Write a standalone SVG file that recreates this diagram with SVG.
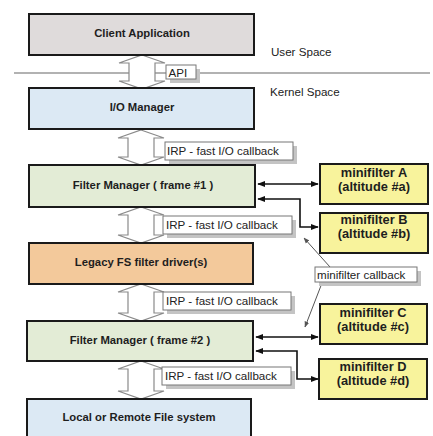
<svg xmlns="http://www.w3.org/2000/svg" width="433" height="436" viewBox="0 0 433 436">
<defs>
<style>
.box{stroke:#1a1a1a;stroke-width:2}
.bt{font-family:"Liberation Sans",Arial,sans-serif;font-weight:bold;font-size:11.3px;fill:#1e1e1e;text-anchor:middle}
.mt{font-family:"Liberation Sans",Arial,sans-serif;font-weight:bold;font-size:12.8px;fill:#1e1e1e;text-anchor:middle}
.lt{font-family:"Liberation Sans",Arial,sans-serif;font-size:11.6px;fill:#222}
.blk{fill:#fff;stroke:#8a8a8a;stroke-width:1.2}
.lab{fill:#fff;stroke:#777;stroke-width:1}
.sh{fill:#c4c4c4}
.con{fill:none;stroke:#111;stroke-width:1.6}
.ptr{fill:none;stroke:#555;stroke-width:1}
</style>
<marker id="ah" viewBox="0 0 10 10" refX="9" refY="5" markerWidth="5" markerHeight="5" orient="auto-start-reverse" markerUnits="strokeWidth">
<path d="M0,1 L10,5 L0,9 Z" fill="#111"/>
</marker>
<marker id="ph" viewBox="0 0 10 10" refX="9" refY="5" markerWidth="6" markerHeight="6" orient="auto" markerUnits="strokeWidth">
<path d="M0,1 L10,5 L0,9 Z" fill="#555"/>
</marker>
</defs>
<rect width="433" height="436" fill="#fff"/>

<line x1="14" y1="73" x2="430" y2="73" stroke="#999" stroke-width="1.5"/>
<text class="lt" x="271" y="56">User Space</text>
<text class="lt" x="270" y="96">Kernel Space</text>

<g id="connectors">
<path class="blk" d="M142,55 L165,63 L155,63 L155,81 L165,81 L142,89 L119,81 L129,81 L129,63 L119,63 Z"/>
<path class="blk" d="M141,130 L164,138 L154,138 L154,157 L164,157 L141,165 L118,157 L128,157 L128,138 L118,138 Z"/>
<path class="blk" d="M141,207 L164,215 L154,215 L154,235 L164,235 L141,243 L118,235 L128,235 L128,215 L118,215 Z"/>
<path class="blk" d="M141,284 L164,292 L154,292 L154,313 L164,313 L141,321 L118,313 L128,313 L128,292 L118,292 Z"/>
<path class="blk" d="M141,361 L164,369 L154,369 L154,391 L164,391 L141,399 L118,391 L128,391 L128,369 L118,369 Z"/>

<g id="label-api">
<rect class="sh" x="170" y="69" width="30" height="14"/>
<rect class="lab" x="166" y="65" width="30" height="14"/>
<text class="lt" x="168.5" y="76.5" font-size="12">API</text>
</g>
<g id="label-irp1">
<rect class="sh" x="169" y="146" width="128" height="18"/>
<rect class="lab" x="165" y="142" width="128" height="18"/>
<text class="lt" x="167" y="155">IRP - fast I/O callback</text>
</g>
<g id="label-irp2">
<rect class="sh" x="167" y="220" width="129" height="18"/>
<rect class="lab" x="163" y="216" width="129" height="18"/>
<text class="lt" x="166" y="229">IRP - fast I/O callback</text>
</g>
<g id="label-irp3">
<rect class="sh" x="167" y="296" width="128" height="18"/>
<rect class="lab" x="163" y="292" width="128" height="18"/>
<text class="lt" x="166" y="305">IRP - fast I/O callback</text>
</g>
<g id="label-irp4">
<rect class="sh" x="166" y="371" width="129" height="18"/>
<rect class="lab" x="162" y="367" width="129" height="18"/>
<text class="lt" x="165" y="380">IRP - fast I/O callback</text>
</g>

<path class="con" d="M258,184 L318,184" marker-start="url(#ah)" marker-end="url(#ah)"/>
<path class="con" d="M258,199 L300,199 L300,227 L318,227" marker-start="url(#ah)" marker-end="url(#ah)"/>
<path class="con" d="M256,337 L318,337" marker-start="url(#ah)" marker-end="url(#ah)"/>
<path class="con" d="M256,351 L297,351 L297,379 L318,379" marker-start="url(#ah)" marker-end="url(#ah)"/>

<line class="ptr" x1="330" y1="267" x2="304" y2="238" marker-end="url(#ph)"/>
<line class="ptr" x1="322" y1="283" x2="305" y2="327" marker-end="url(#ph)"/>
<g id="label-callback">
<rect class="sh" x="319" y="271" width="102" height="15"/>
<rect class="lab" x="315" y="267" width="102" height="15"/>
<text class="lt" x="317" y="279" font-size="12">minifilter callback</text>
</g>
</g>

<g id="client-app">
<rect class="box" x="29" y="14" width="225" height="41" fill="#dfdbdb"/>
<text class="bt" x="142" y="37">Client Application</text>
</g>
<g id="io-manager">
<rect class="box" x="29" y="88" width="225" height="41" fill="#dce9f4"/>
<text class="bt" x="142" y="111">I/O Manager</text>
</g>
<g id="filter-manager-1">
<rect class="box" x="29" y="165" width="226" height="42" fill="#e3ecd6"/>
<text class="bt" x="143" y="189">Filter Manager ( frame #1 )</text>
</g>
<g id="legacy-fs">
<rect class="box" x="29" y="243" width="224" height="41" fill="#f3c99b"/>
<text class="bt" x="141" y="266">Legacy FS filter driver(s)</text>
</g>
<g id="filter-manager-2">
<rect class="box" x="27" y="321" width="226" height="40" fill="#e3ecd6"/>
<text class="bt" x="140" y="344">Filter Manager ( frame #2 )</text>
</g>
<g id="local-fs">
<rect class="box" x="27" y="399" width="224" height="40" fill="#dce9f4"/>
<text class="bt" x="139" y="421">Local or Remote File system</text>
</g>

<g id="minifilter-a">
<rect class="box" x="320" y="164" width="108" height="40" fill="#f8f39c"/>
<text class="mt" x="374" y="177">minifilter A</text>
<text class="mt" x="374" y="191">(altitude #a)</text>
</g>
<g id="minifilter-b">
<rect class="box" x="320" y="213" width="108" height="40" fill="#f8f39c"/>
<text class="mt" x="374" y="224">minifilter B</text>
<text class="mt" x="374" y="238">(altitude #b)</text>
</g>
<g id="minifilter-c">
<rect class="box" x="320" y="304" width="107" height="40" fill="#f8f39c"/>
<text class="mt" x="373" y="317">minifilter C</text>
<text class="mt" x="373" y="331">(altitude #c)</text>
</g>
<g id="minifilter-d">
<rect class="box" x="319" y="359" width="108" height="40" fill="#f8f39c"/>
<text class="mt" x="373" y="371">minifilter D</text>
<text class="mt" x="373" y="385">(altitude #d)</text>
</g>
</svg>
